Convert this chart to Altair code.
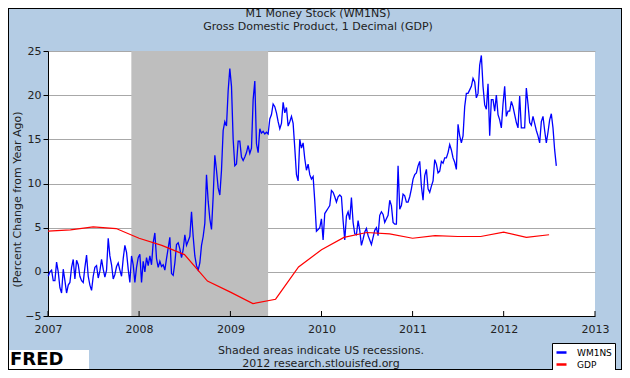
import altair as alt
import pandas as pd

FONT = "DejaVu Sans"

title_lines = ["M1 Money Stock (WM1NS)", "Gross Domestic Product, 1 Decimal (GDP)"]
y_title = "(Percent Change from Year Ago)"
notes = ["Shaded areas indicate US recessions.", "2012 research.stlouisfed.org"]
series_names = ["WM1NS", "GDP"]
series_colors = ["#0000FF", "#FF0000"]

# weekly M1 year-over-year % change (evenly spaced samples)
m1_start, m1_end = "2007-01-02", "2012-07-30"
m1_values = [
    -0.5, 0.0, 0.2, -1.0, -1.0, 1.1, 0.0, -1.8, -2.4, 0.3,
    -1.0, -2.4, -1.5, -1.2, 0.5, 1.4, -0.8, 1.3, 0.8, -0.5,
    -1.0, -1.2, 0.5, 1.9, -0.5, -1.5, -2.1, -0.5, 0.5, 0.7,
    -0.7, 0.1, 1.4, 0.3, -0.6, 0.2, 3.8, 1.8, 0.8, -0.8,
    -0.3, 0.6, 1.0, 0.2, -0.5, 1.5, 3.0, 2.2, 0.3, -1.2,
    1.8, 0.8, -1.2, 0.5, 1.6, 2.0, -1.2, 1.2, 0.0, 1.6,
    0.7, 1.8, 0.8, 3.3, 4.4, 1.5, 0.5, 1.2, 0.6, 0.8,
    0.2, 1.5, 2.7, 3.9, -0.2, -0.4, 1.0, 3.1, 3.3, 2.6,
    1.6, 2.5, 4.2, 3.0, 3.5, 4.0, 6.8, 4.0, 1.8, 0.7,
    0.2, 1.0, 3.0, 4.0, 5.5, 11.0, 8.0, 6.0, 4.8, 8.5,
    13.2, 11.5, 9.5, 8.7, 11.5, 16.0, 17.0, 16.5, 20.5, 23.0,
    21.0, 15.0, 12.0, 12.2, 14.8, 14.8, 13.0, 12.6, 13.0, 13.5,
    14.3, 13.4, 14.0, 19.5, 21.6, 14.5, 13.5, 16.2, 15.7, 15.9,
    15.6, 15.8, 15.6, 17.3, 17.8, 19.0, 18.7, 18.0, 17.0, 16.2,
    16.8, 19.2, 18.0, 18.6, 16.5, 17.0, 17.6, 16.8, 14.0, 11.0,
    10.3, 15.0, 14.0, 14.6, 12.8, 11.5, 12.2, 11.0, 10.5, 10.8,
    8.0, 4.6, 4.8, 5.0,
    6.0, 3.6, 6.6, 6.9, 7.2, 7.5, 9.2, 9.0, 8.5, 7.9,
    8.5, 8.7, 8.5, 5.8, 3.6, 6.3, 6.8, 5.9, 8.4, 5.6,
    4.3, 4.2, 5.8, 4.7, 3.0, 3.7, 4.5, 4.9, 4.1, 3.6,
    3.1, 3.9, 4.7, 5.0, 4.1, 6.4, 6.8, 6.5, 5.6, 6.0,
    6.4, 8.1, 7.5, 5.6, 5.4, 5.4, 12.0, 7.1, 7.5, 8.8,
    8.6, 7.9, 7.9, 8.5, 9.4, 10.5, 11.0, 11.2, 12.0, 12.5,
    9.7, 8.1, 10.9, 11.6, 9.4, 9.0, 9.7, 10.3, 12.7, 12.2,
    11.2, 11.4, 12.5, 12.3, 12.9, 12.9, 13.5, 14.4, 13.8, 12.9,
    12.4, 11.6, 16.7, 15.4, 14.6, 15.4, 18.7, 20.2, 20.2, 20.6,
    21.0, 21.9, 21.5, 19.7, 20.2, 23.4, 24.5, 21.0, 18.9, 18.4,
    21.3, 15.4, 19.5, 19.5, 18.2, 20.0, 17.8, 17.2, 16.3, 19.0,
    21.0, 17.6, 18.2, 18.2, 19.3, 18.7, 17.8, 16.9, 16.3, 19.9,
    16.3, 16.3, 16.3, 20.8, 19.0, 16.9, 16.6, 17.6, 16.8, 16.0,
    15.4, 14.6, 17.0, 17.6, 16.0, 14.6, 15.8, 17.2, 17.9, 16.3,
    13.8, 12.0,
]

# quarterly GDP year-over-year % change
gdp_dates = [
    "2007-01-01", "2007-04-01", "2007-07-01", "2007-10-01",
    "2008-01-01", "2008-04-01", "2008-07-01", "2008-10-01",
    "2009-01-01", "2009-04-01", "2009-07-01", "2009-10-01",
    "2010-01-01", "2010-04-01", "2010-07-01", "2010-10-01",
    "2011-01-01", "2011-04-01", "2011-07-01", "2011-10-01",
    "2012-01-01", "2012-04-01", "2012-07-01",
]
gdp_values = [4.6, 4.75, 5.1, 4.9, 3.8, 3.0, 1.95, -1.05, -2.3, -3.6, -3.1, 0.55,
              2.5, 3.9, 4.45, 4.3, 3.8, 4.1, 4.0, 4.0, 4.5, 3.9, 4.2]

recession_start, recession_end = "2007-12-01", "2009-06-01"
year_ticks = [2007, 2008, 2009, 2010, 2011, 2012, 2013]
y_ticks = [-5, 0, 5, 10, 15, 20, 25]
y_domain = [-5, 25]

# ---- tables ----
m1_dates = pd.date_range(m1_start, m1_end, periods=len(m1_values))
df_m1 = pd.DataFrame({
    "date": m1_dates.strftime("%Y-%m-%dT%H:%M:%S"),
    "value": m1_values,
    "series": series_names[0],
})
df_gdp = pd.DataFrame({
    "date": [d + "T00:00:00" for d in gdp_dates],
    "value": gdp_values,
    "series": series_names[1],
})
df_rec = pd.DataFrame({
    "start": [recession_start + "T00:00:00"],
    "end": [recession_end + "T00:00:00"],
    "lo": [y_domain[0]],
    "hi": [y_domain[1]],
})
df_ticks = pd.DataFrame({"date": [f"{y}-01-01T00:00:00" for y in year_ticks]})

W, H = 547, 265

x_scale = alt.Scale(domain=[alt.DateTime(year=year_ticks[0], month=1, date=1),
                            alt.DateTime(year=year_ticks[-1], month=1, date=1)])
y_scale = alt.Scale(domain=y_domain, nice=False, zero=False)
x_axis = alt.Axis(
    title=None, format="%Y", grid=False, tickSize=0, labelPadding=7,
    values=[alt.DateTime(year=y, month=1, date=1) for y in year_ticks],
    domainColor="black", domainWidth=1, labelColor="#222222", labelFontSize=11,
    labelFont=FONT, labelOverlap=False, labelBound=False, labelFlush=False,
)
y_axis = alt.Axis(
    title=y_title, values=y_ticks, grid=True, gridColor="#A8A8A8", gridWidth=1,
    domainColor="black", tickColor="black", tickSize=5, labelPadding=2,
    labelColor="#222222", labelFontSize=11, labelFont=FONT,
    titleFont=FONT, titleFontSize=11, titleFontWeight="normal", titleColor="#222222",
    titleX=-31, titleY=148, titleAngle=270, titleAlign="center", titleBaseline="middle",
)
X = lambda f: alt.X(f, scale=x_scale, axis=x_axis)
Y = lambda f: alt.Y(f, scale=y_scale, axis=y_axis)

legend = alt.Legend(
    title=None, orient="none", legendX=504, legendY=292,
    fillColor="white", strokeColor="black", padding=3,
    symbolType="stroke", symbolStrokeWidth=2.5, symbolSize=100,
    labelFont=FONT, labelFontSize=9, labelColor="black", rowPadding=0, labelOffset=9,
)
color = alt.Color("series:N", scale=alt.Scale(domain=series_names, range=series_colors),
                  legend=legend)

recession = alt.Chart(df_rec).mark_rect(color="#BEBEBE").encode(
    x=X("start:T"), x2="end:T", y=Y("lo:Q"), y2="hi:Q")

m1_line = alt.Chart(df_m1).mark_line(strokeWidth=1.3).encode(
    x=X("date:T"), y=Y("value:Q"), color=color)

gdp_line = alt.Chart(df_gdp).mark_line(strokeWidth=1.2).encode(
    x=X("date:T"), y=Y("value:Q"), color=color)

ticks = alt.Chart(df_ticks).mark_rule(color="black", strokeWidth=1).encode(
    x=X("date:T"), y=alt.value(H), y2=alt.value(H - 5))


def text_layer(txt, x, y, size=11, weight="normal", align="center", color="#222222"):
    return alt.Chart().mark_text(font=FONT, fontSize=size, fontWeight=weight, color=color,
                                 align=align, baseline="middle").encode(
        x=alt.value(x), y=alt.value(y), text=alt.value(txt))


title1 = text_layer(title_lines[0], 270, -37)
title2 = text_layer(title_lines[1], 270, -24)
note1 = text_layer(notes[0], 273, 300)
note2 = text_layer(notes[1], 273, 313)

logo_box = alt.Chart().mark_rect(color="white").encode(
    x=alt.value(-43), x2=alt.value(41), y=alt.value(299), y2=alt.value(318))
logo_text = text_layer("FRED", -38, 309, size=18, weight="bold", align="left", color="black")

frame = alt.Chart().mark_rect(filled=False, stroke="black", strokeWidth=2).encode(
    x=alt.value(-40), x2=alt.value(W + 27), y=alt.value(-43), y2=alt.value(H + 54))

chart = alt.layer(
    recession, m1_line, gdp_line, ticks, title1, title2, note1, note2,
    logo_box, logo_text, frame
).properties(
    width=W, height=H,
    padding={"left": 40, "top": 43, "right": 27, "bottom": 54},
    autosize=alt.AutoSizeParams(type="none"),
    background="#B4CCE4",
).configure_view(fill="white", strokeWidth=0)

chart.save("out.html", embed_options={"renderer": "svg", "actions": False})
